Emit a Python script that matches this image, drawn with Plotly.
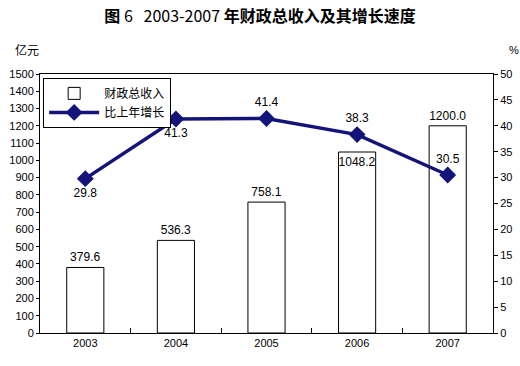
import plotly.graph_objects as go

years = ["2003", "2004", "2005", "2006", "2007"]
revenue = [379.6, 536.3, 758.1, 1048.2, 1200.0]
growth = [29.8, 41.3, 41.4, 38.3, 30.5]
revenue_labels = ["379.6", "536.3", "758.1", "1048.2", "1200.0"]
growth_labels = ["29.8", "41.3", "41.4", "38.3", "30.5"]

NUM_FONT = "Liberation Sans, Arial, sans-serif"
CJK_FONT = "Noto Sans CJK SC, sans-serif"
NAVY = "#13137a"

fig = go.Figure()
fig.add_trace(go.Bar(
    x=years, y=revenue, name="财政总收入",
    marker=dict(color="white", line=dict(color="black", width=1)),
    text=revenue_labels,
    textposition=["outside", "outside", "outside", "inside", "outside"],
    insidetextanchor="end",
    textangle=0,
    constraintext="none",
    textfont=dict(family=NUM_FONT, size=12, color="black"),
    cliponaxis=False,
))
fig.add_trace(go.Scatter(
    x=years, y=growth, name="比上年增长", yaxis="y2",
    mode="lines+markers+text",
    line=dict(color=NAVY, width=3.5),
    marker=dict(symbol="diamond", size=13, color=NAVY),
    text=growth_labels,
    textposition=["bottom center", "bottom center", "top center", "top center", "top center"],
    textfont=dict(family=NUM_FONT, size=12, color="black"),
    cliponaxis=False,
))

fig.update_layout(
    width=520, height=366,
    margin=dict(l=40, r=27, t=74, b=33),
    paper_bgcolor="white", plot_bgcolor="white",
    bargap=0.59,
    showlegend=True,
    title=dict(
        text="<b>图</b> 6&nbsp;&nbsp;&nbsp;2003-2007 <b>年财政总收入及其增长速度</b>",
        x=0.5, xanchor="center", y=1 - 16 / 366, yanchor="middle",
        font=dict(family=CJK_FONT, size=16, color="black"),
    ),
    legend=dict(
        x=0.007, y=0.985, xanchor="left", yanchor="top",
        bordercolor="black", borderwidth=1, bgcolor="white",
        font=dict(family=CJK_FONT, size=12, color="black"),
        tracegroupgap=0, itemwidth=50,
    ),
    xaxis=dict(
        automargin=False,
        showline=True, linecolor="black", linewidth=1, mirror=True,
        ticks="inside", ticklen=5, tickson="boundaries", tickcolor="black",
        tickfont=dict(family=NUM_FONT, size=11, color="black"),
        showgrid=False,
    ),
    yaxis=dict(
        automargin=False,
        range=[0, 1500], dtick=100, showgrid=False, zeroline=False,
        showline=True, linecolor="black", linewidth=1,
        ticks="outside", ticklen=3, tickcolor="black",
        tickfont=dict(family=NUM_FONT, size=11, color="black"),
    ),
    yaxis2=dict(
        automargin=False,
        range=[0, 50], dtick=5, overlaying="y", side="right",
        showgrid=False, zeroline=False,
        showline=True, linecolor="black", linewidth=1,
        ticks="outside", ticklen=4, tickcolor="black",
        tickfont=dict(family=NUM_FONT, size=11, color="black"),
    ),
    annotations=[
        dict(text="亿元", xref="paper", yref="paper", x=-0.06, y=1 + 24 / 259,
             xanchor="left", yanchor="middle", showarrow=False,
             font=dict(family=CJK_FONT, size=12, color="black")),
        dict(text="%", xref="paper", yref="paper", x=1.03, y=1 + 24 / 259,
             xanchor="left", yanchor="middle", showarrow=False,
             font=dict(family=NUM_FONT, size=11, color="black")),
    ],
)

fig.write_html("out.html", config={"displayModeBar": False},
               post_script="document.body.style.margin='0';")
